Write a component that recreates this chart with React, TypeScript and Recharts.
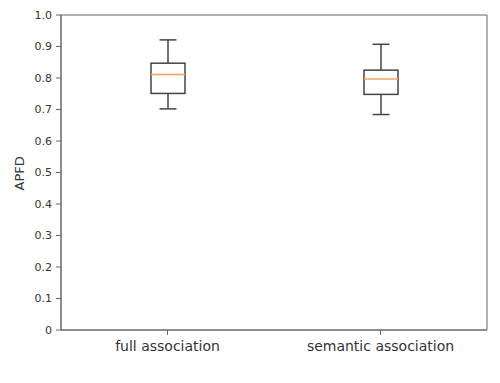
import React from 'react';
import { ComposedChart, Bar, XAxis, YAxis, ReferenceArea } from 'recharts';

const categories = ['full association', 'semantic association'];
const whiskerLow = [0.702, 0.684];
const quartile1 = [0.751, 0.748];
const medians = [0.811, 0.797];
const quartile3 = [0.847, 0.825];
const whiskerHigh = [0.921, 0.907];
const yTicks = [0, 0.1, 0.2, 0.3, 0.4, 0.5, 0.6, 0.7, 0.8, 0.9, 1.0];

const data = categories.map((name, i) => ({
  name,
  range: [whiskerLow[i], whiskerHigh[i]],
  min: whiskerLow[i],
  q1: quartile1[i],
  median: medians[i],
  q3: quartile3[i],
  max: whiskerHigh[i],
}));

const BoxShape = (props: any) => {
  const { x, y, width, height, payload } = props;
  const { min, q1, median, q3, max } = payload;
  const perUnit = height / (max - min);
  const toY = (v: number) => y + (max - v) * perUnit;
  const cx = x + width / 2;
  const cap = width / 4;
  const stroke = '#444';
  return (
    <g>
      <line x1={cx} x2={cx} y1={toY(max)} y2={toY(q3)} stroke={stroke} strokeWidth={1.5} />
      <line x1={cx} x2={cx} y1={toY(q1)} y2={toY(min)} stroke={stroke} strokeWidth={1.5} />
      <line x1={cx - cap} x2={cx + cap} y1={toY(max)} y2={toY(max)} stroke={stroke} strokeWidth={1.5} />
      <line x1={cx - cap} x2={cx + cap} y1={toY(min)} y2={toY(min)} stroke={stroke} strokeWidth={1.5} />
      <rect x={x} y={toY(q3)} width={width} height={toY(q1) - toY(q3)} fill="none" stroke={stroke} strokeWidth={1.5} />
      <line x1={x} x2={x + width} y1={toY(median)} y2={toY(median)} stroke="#ffa060" strokeWidth={1.5} />
    </g>
  );
};

export default function App() {
  return (
    <div style={{ position: 'absolute', left: 0, top: 0, fontFamily: 'DejaVu Sans' }}>
      <ComposedChart
        width={500}
        height={383}
        data={data}
        margin={{ top: 15, right: 13, bottom: 0, left: 0 }}
      >
        <XAxis
          dataKey="name"
          height={53}
          stroke="#666"
          tickSize={5}
          tick={{ fill: '#333', fontSize: 14 }}
          tickMargin={6}
        />
        <YAxis
          domain={[0, 1]}
          ticks={yTicks}
          width={61}
          stroke="#666"
          tickSize={5}
          tickMargin={4}
          interval={0}
          tick={{ fill: '#333', fontSize: 11 }}
          tickFormatter={(v: number) => (v === 0 ? '0' : v.toFixed(1))}
          label={{ value: 'APFD', angle: -90, position: 'insideLeft', offset: 19, fill: '#333', fontSize: 13, dy: 18 }}
        />
        <ReferenceArea y1={0} y2={1} fill="none" stroke="#666" strokeWidth={1} ifOverflow="extendDomain" />
        <Bar dataKey="range" barSize={34} shape={<BoxShape />} isAnimationActive={false} />
      </ComposedChart>
    </div>
  );
}
